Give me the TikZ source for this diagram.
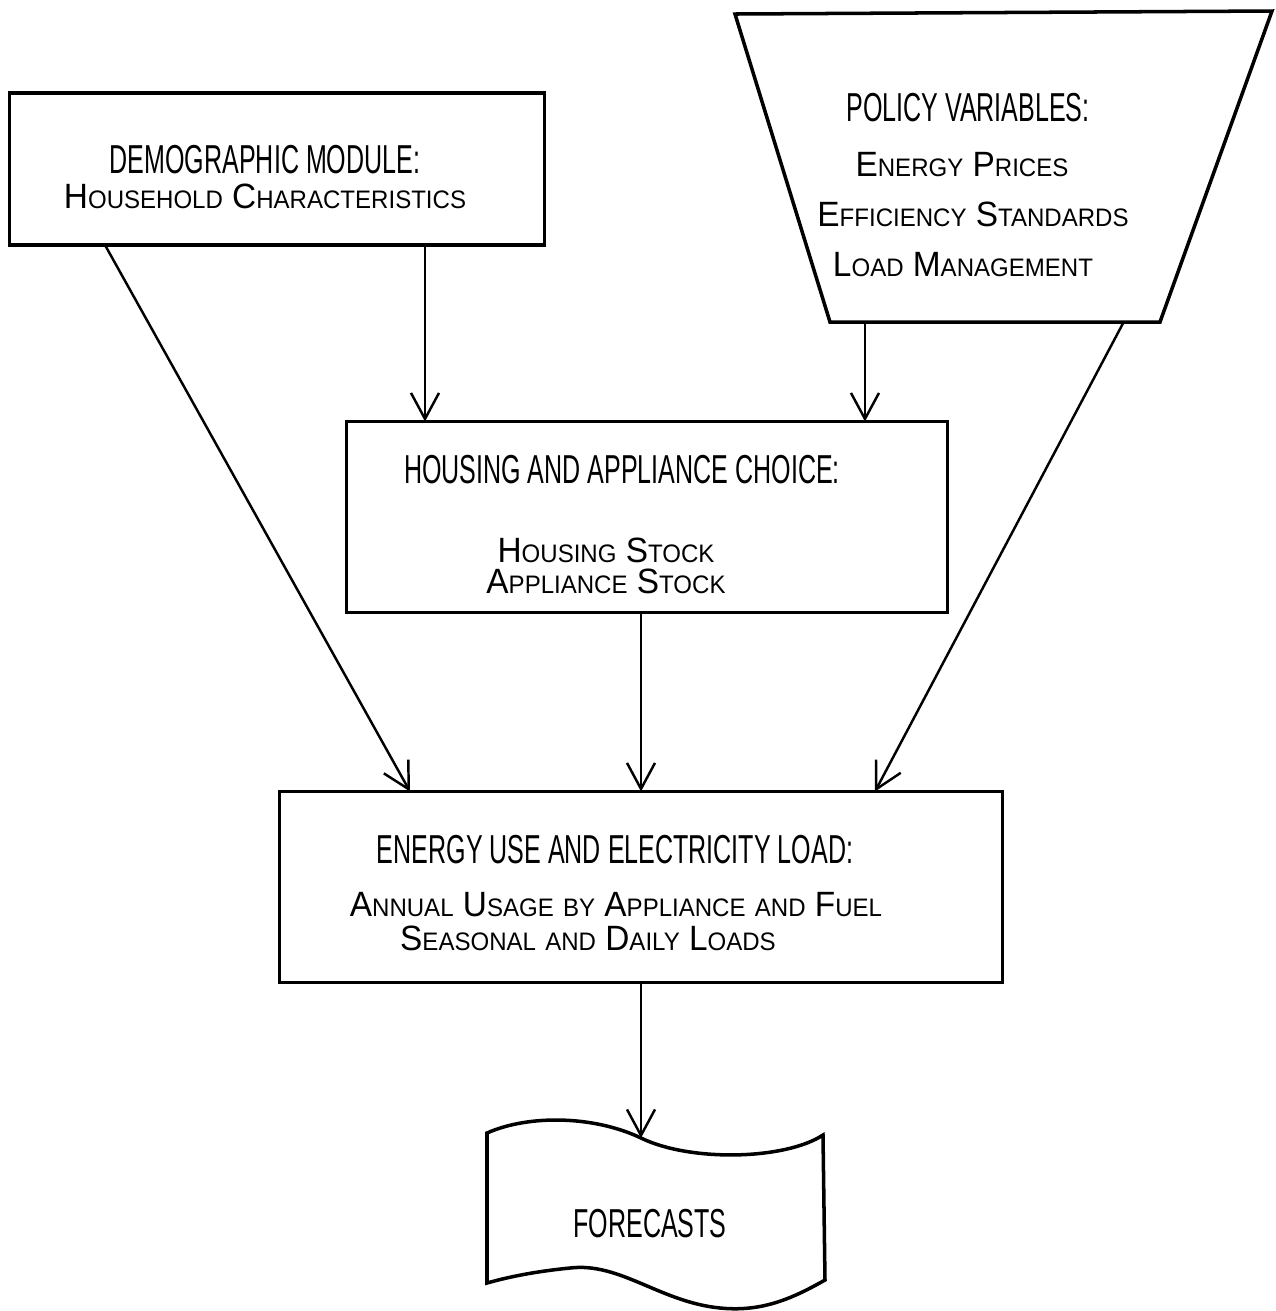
\documentclass[tikz,border=0pt]{standalone}
\usepackage{fontspec}
\usetikzlibrary{arrows.meta,calc,positioning}
\newfontfamily\titlefont{Liberation Sans}[FakeStretch=0.62]
\newfontfamily\scfont{Liberation Sans}[FakeStretch=0.95]
% small capitals by hand: big initial, small rest
\newcommand{\scap}[2]{{\fontsize{10}{12}\selectfont#1}{\fontsize{7.2}{12}\selectfont#2}}
\newcommand{\slow}[1]{{\fontsize{7.2}{12}\selectfont#1}}
\tikzset{
    %Define standard arrow tip
    >={Straight Barb[length=2.6mm,width=2.8mm]},
    %Define style for boxes
    modbox/.style={
           rectangle,
           draw=black, line width=1pt,
           outer sep=0pt},
    outline/.style={
           draw=black, line width=1pt},
    titletxt/.style={
           font=\titlefont\fontsize{11.5}{13}\selectfont,
           inner sep=0pt},
    sctxt/.style={
           font=\scfont,
           align=center,
           inner sep=0pt},
    % Define arrow style
    pil/.style={
           ->,
           line width=0.7pt}
}

\begin{document}
\begin{tikzpicture}[x=0.1mm,y=-0.1mm]
\useasboundingbox (0,0) rectangle (1276,1311);

\node[modbox, minimum width=5.35cm, minimum height=1.52cm] (demo) at (277,169) {};
\node[titletxt] (demotitle) at (265,160) {DEMOGRAPHIC MODULE:};
\node[sctxt] (demosub) at (265,196) {\scap{H}{OUSEHOLD} \scap{C}{HARACTERISTICS}};

% policy funnel
\coordinate (poltl) at (735,14);
\coordinate (poltr) at (1272,11);
\coordinate (polbr) at (1160,322);
\coordinate (polbl) at (830,322);
\draw[outline] (poltl) -- (poltr) -- (polbr) -- (polbl) -- cycle;
\node[titletxt] (poltitle) at (968,108) {POLICY VARIABLES:};
\node[sctxt] (polprice) at (962,165) {\scap{E}{NERGY} \scap{P}{RICES}};
\node[sctxt] (poleff) at (973,214) {\scap{E}{FFICIENCY} \scap{S}{TANDARDS}};
\node[sctxt] (polload) at (963,265) {\scap{L}{OAD} \scap{M}{ANAGEMENT}};
\coordinate (polout1) at ($(polbl)!0.106!(polbr)$);
\coordinate (polout2) at ($(polbl)!0.89!(polbr)$);

\node[modbox, minimum width=6.01cm, minimum height=1.91cm] (house) at (647,517) {};
\node[titletxt] (housetitle) at (622,470) {HOUSING AND APPLIANCE CHOICE:};
\node[sctxt] (housestock) at (606,566) {\scap{H}{OUSING} \scap{S}{TOCK}\\[-3pt]\scap{A}{PPLIANCE} \scap{S}{TOCK}};

\node[modbox, minimum width=7.23cm, minimum height=1.91cm] (energy) at (641,887) {};
\node[titletxt] (energytitle) at (615,850) {ENERGY USE AND ELECTRICITY LOAD:};
\node[sctxt] (energyuse) at (616,905) {\scap{A}{NNUAL} \scap{U}{SAGE} \slow{BY} \scap{A}{PPLIANCE} \slow{AND} \scap{F}{UEL}};
\node[sctxt] (energyload) at (588,938) {\scap{S}{EASONAL} \slow{AND} \scap{D}{AILY} \scap{L}{OADS}};

% forecasts document shape
\node[titletxt] (fc) at (650,1224) {FORECASTS};
\coordinate (fctop) at (641,1138);
\draw[outline] (487,1133) .. controls (530,1114) and (595,1116) .. (fctop)
    .. controls (690,1162) and (785,1160) .. (823,1135) -- (825,1280)
    .. controls (790,1300) and (760,1312) .. (720,1308)
    .. controls (660,1302) and (620,1262) .. (570,1268)
    .. controls (530,1272) and (505,1278) .. (487,1283) -- cycle;

\draw[pil] ([xshift=1.48cm]demo.south) -- ([xshift=1.48cm]demo.south |- house.north);
\draw[pil] (polout1) -- (polout1 |- house.north);
\draw[pil] ([xshift=-1.72cm]demo.south) -- ([xshift=-2.31cm]energy.north);
\draw[pil] ([xshift=-0.06cm]house.south) -- ([xshift=-0.06cm]house.south |- energy.north);
\draw[pil] (polout2) -- ([xshift=2.34cm]energy.north);
\draw[pil] (energy.south) -- (fctop);

\end{tikzpicture}
\end{document}
